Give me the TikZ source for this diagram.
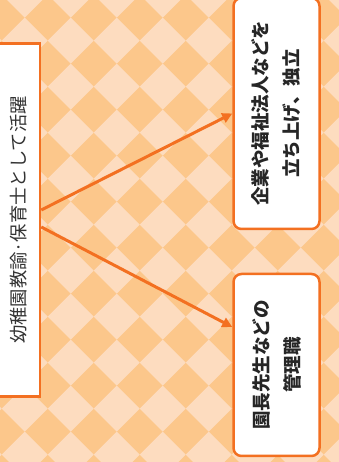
\documentclass[tikz,border=0pt]{standalone}
\usepackage{fontspec}
\newfontfamily\jpfont{Noto Sans CJK JP}
\usetikzlibrary{arrows.meta,positioning,calc}
\definecolor{checkdark}{HTML}{FCC78B}
\definecolor{checklight}{HTML}{FDDCBF}
\definecolor{lineorange}{HTML}{F37021}
\definecolor{textgray}{HTML}{333333}

\begin{document}
\begin{tikzpicture}[x=1pt, y=1pt,
    mainbox/.style={draw=lineorange, line width=2.5pt, fill=white, rotate=90, inner sep=0pt},
    subbox/.style={mainbox, rounded corners=8pt, align=center,
      font=\jpfont\bfseries\fontsize{18.5}{31}\selectfont, text=black!85},
    branch/.style={draw=lineorange, line width=3pt, -{Triangle[length=10pt,width=10pt]}}]
    % checker background
    \useasboundingbox (0,0) rectangle (339,462);
    \begin{scope}
      \clip (0,0) rectangle (339,462);
      \fill[checkdark] (0,0) rectangle (339,462);
      \foreach \i in {-1,...,7}
        \foreach \j in {-1,...,9}
          \fill[checklight] ({24.7+46*\i},{421.3-46*\j})
            +(-23,0) -- +(0,23) -- +(23,0) -- +(0,-23) -- cycle;
    \end{scope}
    % boxes
    \node [mainbox, minimum width=353pt, minimum height=43pt, text=textgray,
      font=\jpfont\fontsize{18.3}{20}\selectfont] (career) at (18.5,242) {幼稚園教諭·保育士として活躍};
    \node [subbox, minimum width=231pt, minimum height=86pt] (found) at (276.5,348.5)
      {企業や福祉法人などを\\立ち上げ、独立};
    \node [subbox, minimum width=182pt, minimum height=86pt] (manage) at (276.5,97)
      {園長先生などの\\管理職};
    % arrows
    \draw [branch] ([yshift=10pt]career.south) -- (found.north);
    \draw [branch] ([yshift=-7pt]career.south) -- ([yshift=38pt]manage.north);
\end{tikzpicture}
\end{document}
